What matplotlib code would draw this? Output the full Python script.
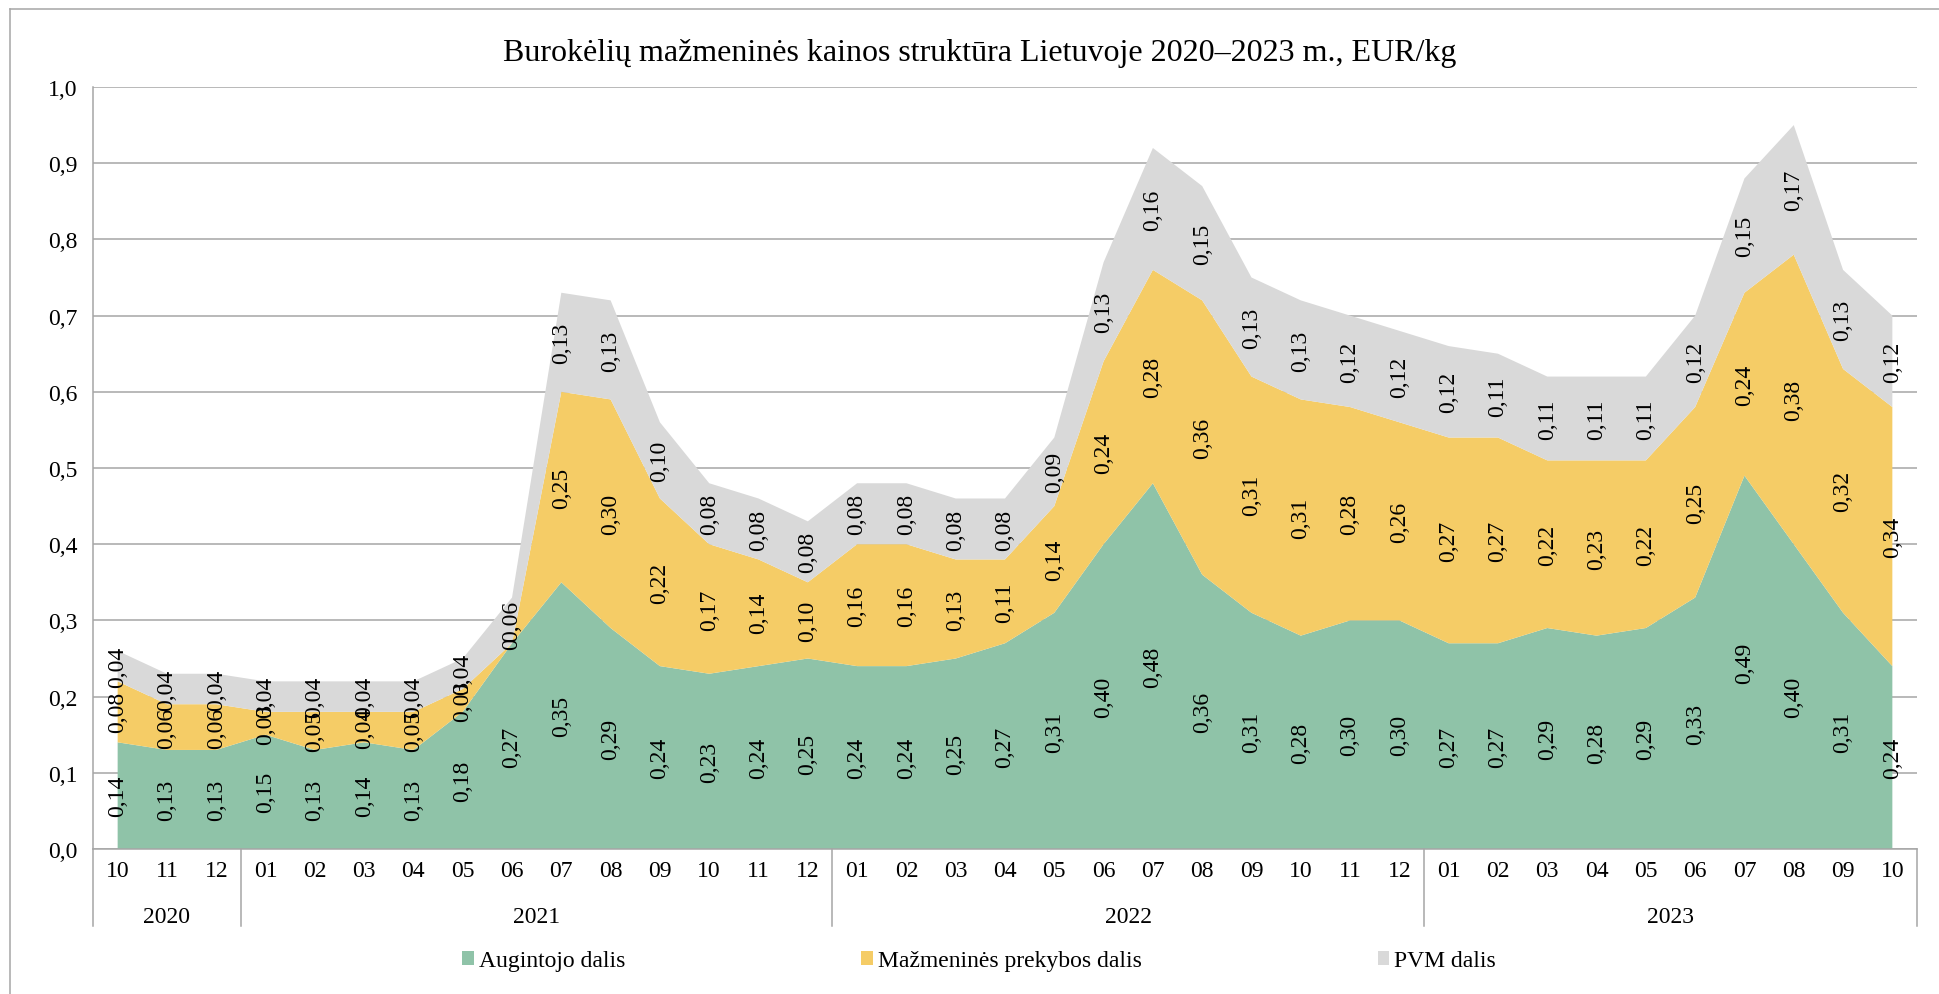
import numpy as np
import matplotlib.pyplot as plt
import matplotlib.transforms as mtransforms
from matplotlib.lines import Line2D
from matplotlib.patches import Patch

plt.rcParams['font.family'] = ['Liberation Serif', 'DejaVu Serif']

# Data
months = ['10', '11', '12',
          '01', '02', '03', '04', '05', '06', '07', '08', '09', '10', '11', '12',
          '01', '02', '03', '04', '05', '06', '07', '08', '09', '10', '11', '12',
          '01', '02', '03', '04', '05', '06', '07', '08', '09', '10']
years = ['2020', '2021', '2022', '2023']
year_counts = [3, 12, 12, 10]

augintojo = [0.14, 0.13, 0.13,
             0.15, 0.13, 0.14, 0.13, 0.18, 0.27, 0.35, 0.29, 0.24, 0.23, 0.24, 0.25,
             0.24, 0.24, 0.25, 0.27, 0.31, 0.40, 0.48, 0.36, 0.31, 0.28, 0.30, 0.30,
             0.27, 0.27, 0.29, 0.28, 0.29, 0.33, 0.49, 0.40, 0.31, 0.24]
prekybos = [0.08, 0.06, 0.06,
            0.03, 0.05, 0.04, 0.05, 0.03, 0.00, 0.25, 0.30, 0.22, 0.17, 0.14, 0.10,
            0.16, 0.16, 0.13, 0.11, 0.14, 0.24, 0.28, 0.36, 0.31, 0.31, 0.28, 0.26,
            0.27, 0.27, 0.22, 0.23, 0.22, 0.25, 0.24, 0.38, 0.32, 0.34]
pvm = [0.04, 0.04, 0.04,
       0.04, 0.04, 0.04, 0.04, 0.04, 0.06, 0.13, 0.13, 0.10, 0.08, 0.08, 0.08,
       0.08, 0.08, 0.08, 0.08, 0.09, 0.13, 0.16, 0.15, 0.13, 0.13, 0.12, 0.12,
       0.12, 0.11, 0.11, 0.11, 0.11, 0.12, 0.15, 0.17, 0.13, 0.12]

series = [augintojo, prekybos, pvm]
names = ['Augintojo dalis', 'Mažmeninės prekybos dalis', 'PVM dalis']
colors = ['#8FC3A8', '#F5CC66', '#D9D9D9']
grid_col = '#A6A6A6'
fs = 17


def fmt(v):
    if v == 0:
        return '0'
    return f'{v:.2f}'.replace('.', ',')


fig = plt.figure(figsize=(19.39, 9.95), dpi=100)
ax = fig.add_axes([93 / 1939, 145 / 995, 1824 / 1939, 762 / 995])

x = np.arange(len(months))
ax.stackplot(x, *series, colors=colors, linewidth=0)

# data labels in the middle of every band
bottom = np.zeros(len(x))
for vals in series:
    vals = np.array(vals)
    for i in range(len(x)):
        ax.text(x[i], bottom[i] + vals[i] / 2, fmt(vals[i]), rotation=90,
                ha='center', va='center', fontsize=fs)
    bottom = bottom + vals

ax.set_xlim(-0.5, len(x) - 0.5)
ax.set_ylim(0, 1)
yt = np.arange(0, 1.01, 0.1)
ax.set_yticks(yt)
ax.set_yticklabels([f'{t:.1f}'.replace('.', ',') for t in yt])
ax.set_xticks(x)
ax.set_xticklabels(months)
ax.tick_params(axis='y', length=0, pad=11, labelsize=fs)
ax.tick_params(axis='x', length=0, pad=8, labelsize=fs)
ax.set_axisbelow(True)
ax.yaxis.grid(True, color=grid_col, linewidth=1.1)
for s in ['top', 'right']:
    ax.spines[s].set_visible(False)
for s in ['left', 'bottom']:
    ax.spines[s].set_color(grid_col)
    ax.spines[s].set_linewidth(1.1)

# year groups under the month labels
trans = mtransforms.blended_transform_factory(ax.transData, ax.transAxes)
edges = np.concatenate([[0], np.cumsum(year_counts)]) - 0.5
for e in edges:
    ax.plot([e, e], [0, -77 / 762], transform=trans, color=grid_col,
            linewidth=1.1, clip_on=False)
for k, yr in enumerate(years):
    ax.text((edges[k] + edges[k + 1]) / 2, -68 / 762, yr, transform=trans,
            ha='center', va='center', fontsize=fs)

fig.text(980 / 1939, 1 - 53 / 995,
         'Burokėlių mažmeninės kainos struktūra Lietuvoje 2020–2023 m., EUR/kg',
         ha='center', va='center', fontsize=23)

handles = [Patch(facecolor=c, edgecolor='none') for c in colors]
fig.legend(handles, names, loc='center', bbox_to_anchor=(979 / 1939, 1 - 962 / 995),
           ncol=3, frameon=False, fontsize=fs, handlelength=0.5, handleheight=0.5,
           handletextpad=0.2, columnspacing=10)

# chart border (top and left visible)
fig.add_artist(Line2D([10 / 1939, 1], [1 - 10 / 995, 1 - 10 / 995], color=grid_col, linewidth=1.1))
fig.add_artist(Line2D([10 / 1939, 10 / 1939], [0, 1 - 10 / 995], color=grid_col, linewidth=1.1))

fig.savefig('out.png', dpi=100)
